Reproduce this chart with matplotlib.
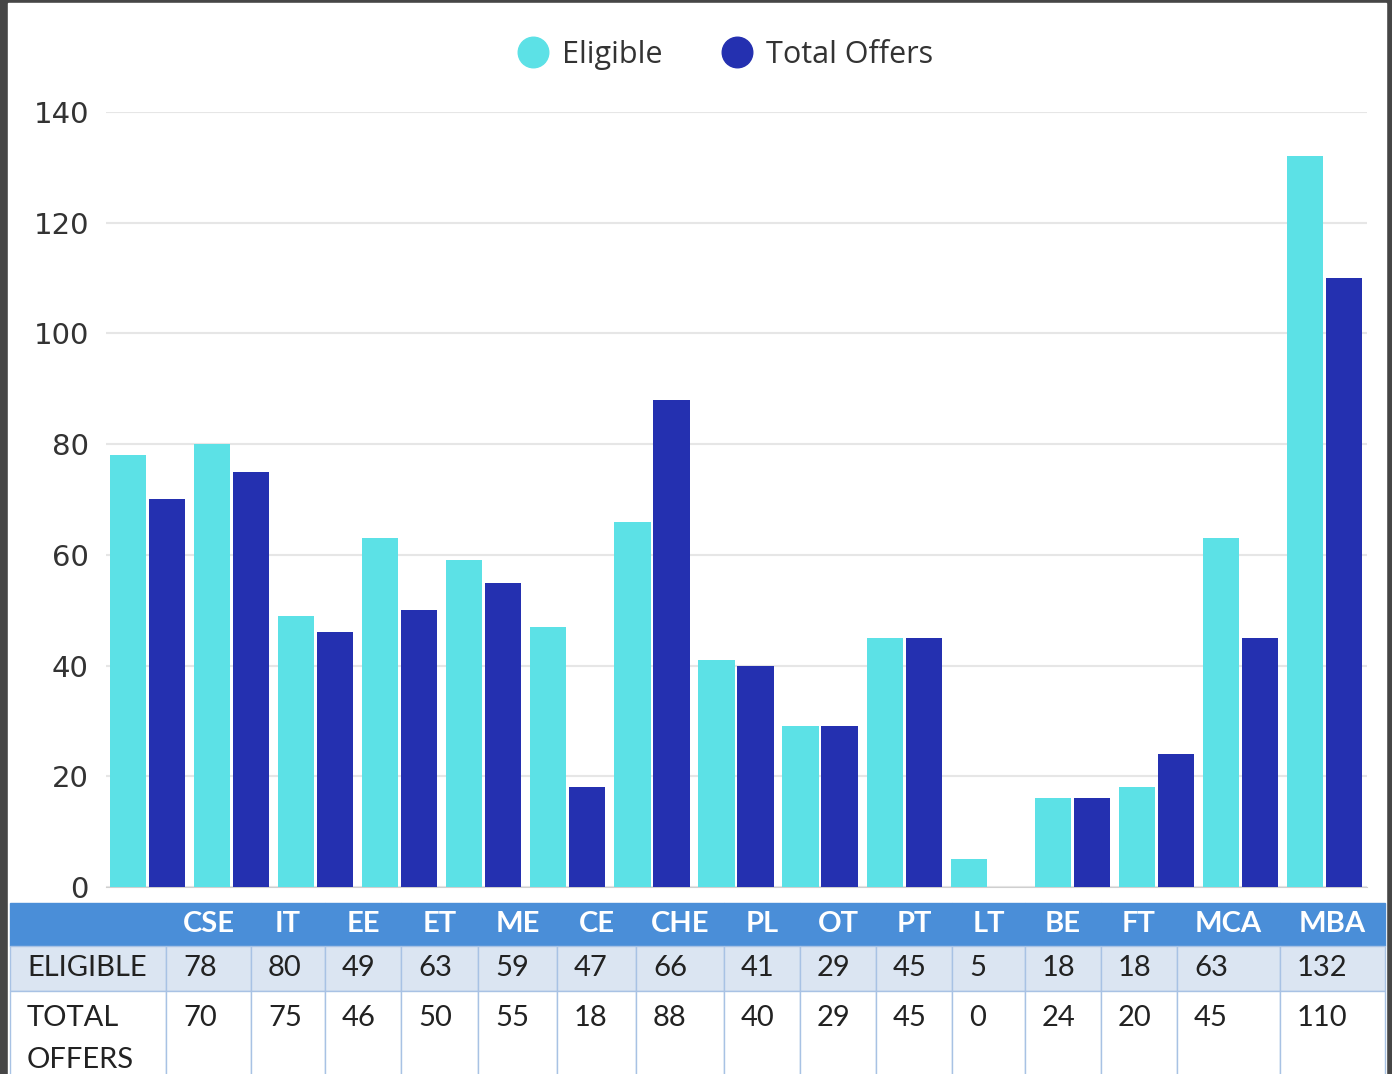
import numpy as np
import matplotlib
matplotlib.use('Agg')
import matplotlib.pyplot as plt
from matplotlib.lines import Line2D
from matplotlib.patches import Rectangle

# values
branches = ['CSE', 'IT', 'EE', 'ET', 'ME', 'CE', 'CHE', 'PL', 'OT', 'PT', 'LT', 'BE', 'FT', 'MCA', 'MBA']
eligible_bars = [78, 80, 49, 63, 59, 47, 66, 41, 29, 45, 5, 16, 18, 63, 132]
offers_bars = [70, 75, 46, 50, 55, 18, 88, 40, 29, 45, 0, 16, 24, 45, 110]

# values printed in the table under the chart
eligible_table = [78, 80, 49, 63, 59, 47, 66, 41, 29, 45, 5, 18, 18, 63, 132]
offers_table = [70, 75, 46, 50, 55, 18, 88, 40, 29, 45, 0, 24, 20, 45, 110]

series_names = ['Eligible', 'Total Offers']
row_names = ['ELIGIBLE', 'TOTAL\nOFFERS']

CYAN = '#5ce1e6'
NAVY = '#2430b0'
HEADER = '#4a8ed8'
ROW1 = '#dbe5f2'
EDGE = '#a8c2e4'

W, H = 1392, 1074
fig = plt.figure(figsize=(W / 100, H / 100), dpi=100, facecolor='#464646')
fig.patches.append(Rectangle((8 / W, 0), (1386 - 8) / W, (H - 3) / H,
                             transform=fig.transFigure, color='white', zorder=-1))

##########################  bars  ##########################
ax = fig.add_axes([105.5 / W, (H - 887) / H, 1261 / W, 775 / H])
x = np.arange(len(branches))
ax.bar(x - 0.232, eligible_bars, 0.43, color=CYAN, zorder=3)
ax.bar(x + 0.232, offers_bars, 0.43, color=NAVY, zorder=3)
ax.set_xlim(-0.5, len(branches) - 0.5)
ax.set_ylim(0, 140)
ax.set_yticks(range(0, 141, 20))
ax.set_xticks([])
ax.grid(axis='y', color='#e6e6e6', linewidth=1.5, zorder=0)
for s in ['top', 'right', 'left']:
    ax.spines[s].set_visible(False)
ax.spines['bottom'].set_color('#cfcfcf')
ax.tick_params(axis='y', length=0, pad=12, labelsize=21, labelcolor='#333333')
for t in ax.get_yticklabels():
    t.set_fontfamily('DejaVu Sans')

handles = [Line2D([], [], marker='o', ls='', markersize=22, color=c) for c in (CYAN, NAVY)]
fig.legend(handles, series_names, loc='center', bbox_to_anchor=(718 / W, 1 - 55 / H),
           ncol=2, frameon=False, handletextpad=-0.05, columnspacing=1.45,
           prop={'family': 'Open Sans', 'size': 22}, labelcolor='#333333')

##########################  table  ##########################
bounds = [10, 166, 251, 325, 401, 478, 557, 636, 724, 800, 876, 952, 1025, 1101, 1177, 1280, 1385]
widths = np.diff(bounds)
tax = fig.add_axes([bounds[0] / W, (H - 1087) / H, (bounds[-1] - bounds[0]) / W, 184 / H])
tax.axis('off')

cell_text = [[row_names[0]] + [str(v) for v in eligible_table],
             [row_names[1]] + [str(v) + '\n ' for v in offers_table]]
tbl = tax.table(cellText=cell_text, colLabels=[''] + branches,
                colWidths=list(widths / widths.sum()), cellLoc='left', bbox=[0, 0, 1, 1])
tbl.auto_set_font_size(False)
tbl.set_fontsize(21)
row_h = {0: 43, 1: 45, 2: 96}
for (r, c), cell in tbl.get_celld().items():
    cell.set_height(row_h[r])
    cell.PAD = 17 / widths[c]
    txt = cell.get_text()
    txt.set_fontfamily('Lato')
    if r == 0:
        cell.set_facecolor(HEADER)
        cell.set_edgecolor(HEADER)
        txt.set_color('white')
        txt.set_fontweight('bold')
    else:
        cell.set_facecolor(ROW1 if r == 1 else 'white')
        cell.set_edgecolor(EDGE)
        txt.set_color('#222222')
        txt.set_linespacing(1.8)

plt.savefig('out.png', dpi=100, facecolor=fig.get_facecolor())
